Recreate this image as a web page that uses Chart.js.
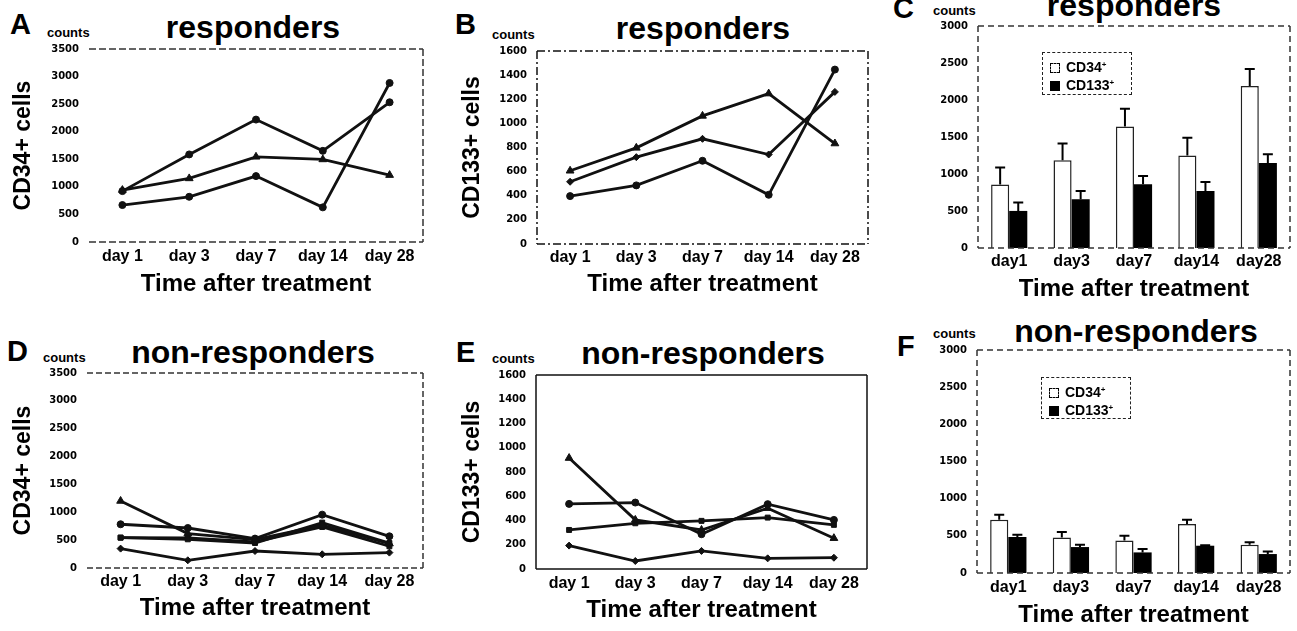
<!DOCTYPE html>
<html>
<head>
<meta charset="utf-8">
<script src="https://cdn.jsdelivr.net/npm/chart.js@4.4.1/dist/chart.umd.min.js"></script>
<style>
  html, body { margin: 0; padding: 0; background: #fff; overflow: hidden; }
  body { width: 1297px; height: 631px; position: relative; font-family: 'Liberation Sans', Arial, sans-serif; color: #000; }
  .box { position: absolute; }
  .txt { position: absolute; font-weight: bold; line-height: 1; white-space: nowrap; }
  .letter { font-size: 29px; }
  .title { font-size: 32px; transform: translateX(-50%); }
  .counts { font-size: 13px; }
  .legend { position: absolute; border: 1.5px dashed #222; box-sizing: border-box; }
  .legend .row { position: absolute; left: 7px; font-size: 14px; font-weight: bold; line-height: 14px; height: 14px; }
  .legend .sw { display: inline-block; width: 10px; height: 10px; box-sizing: border-box; margin-right: 6px; vertical-align: -1px; }
  .legend sup { font-size: 8px; vertical-align: 5px; }
</style>
</head>
<body>

<div class="txt letter" style="left:10px;top:10px">A</div>
<div class="txt counts" style="left:47px;top:26px">counts</div>
<div class="txt title" style="left:253px;top:11px">responders</div>

<div class="txt letter" style="left:455px;top:10px">B</div>
<div class="txt counts" style="left:492px;top:28px">counts</div>
<div class="txt title" style="left:703px;top:12px">responders</div>

<div class="txt letter" style="left:893px;top:-6px">C</div>
<div class="txt counts" style="left:933px;top:4px">counts</div>
<div class="txt title" style="left:1134px;top:-11px">responders</div>

<div class="txt letter" style="left:7px;top:337px">D</div>
<div class="txt counts" style="left:43px;top:351px">counts</div>
<div class="txt title" style="left:253px;top:336px">non-responders</div>

<div class="txt letter" style="left:456px;top:338px">E</div>
<div class="txt counts" style="left:492px;top:352px">counts</div>
<div class="txt title" style="left:703px;top:337px">non-responders</div>

<div class="txt letter" style="left:897px;top:332px">F</div>
<div class="txt counts" style="left:933px;top:327px">counts</div>
<div class="txt title" style="left:1136px;top:315px">non-responders</div>

<div class="box" style="left:0px;top:0px;width:440px;height:303px"><canvas id="chartA"></canvas></div>
<div class="box" style="left:449px;top:0px;width:431px;height:303px"><canvas id="chartB"></canvas></div>
<div class="box" style="left:930px;top:0px;width:367px;height:308px"><canvas id="chartC"></canvas></div>
<div class="box" style="left:0px;top:310px;width:440px;height:317px"><canvas id="chartD"></canvas></div>
<div class="box" style="left:449px;top:310px;width:431px;height:319px"><canvas id="chartE"></canvas></div>
<div class="box" style="left:930px;top:310px;width:367px;height:320px"><canvas id="chartF"></canvas></div>

<div class="legend" style="left:1042px;top:52px;width:90px;height:43px">
  <div class="row" style="top:5px"><span class="sw" style="border:1.5px dashed #000;background:#fff"></span>CD34<sup>+</sup></div>
  <div class="row" style="top:23px"><span class="sw" style="background:#000"></span>CD133<sup>+</sup></div>
</div>
<div class="legend" style="left:1041px;top:377px;width:90px;height:42px">
  <div class="row" style="top:5px"><span class="sw" style="border:1.5px dashed #000;background:#fff"></span>CD34<sup>+</sup></div>
  <div class="row" style="top:23px"><span class="sw" style="background:#000"></span>CD133<sup>+</sup></div>
</div>

<script>
// categories
const days = ['day 1', 'day 3', 'day 7', 'day 14', 'day 28'];
const barDays = ['day1', 'day3', 'day7', 'day14', 'day28'];

// A: CD34+ responders
const aPatient1 = [923, 1588, 2220, 1653, 2534];
const aPatient2 = [941, 1153, 1545, 1497, 1213];
const aPatient3 = [670, 820, 1195, 628, 2884];

// B: CD133+ responders
const bPatient1 = [607, 797, 1062, 1247, 833];
const bPatient2 = [516, 720, 872, 742, 1261];
const bPatient3 = [397, 486, 690, 408, 1446];

// C: responders means and error
const cCD34 = [858, 1187, 1643, 1250, 2188];
const cCD34Err = [230, 226, 238, 239, 230];
const cCD133 = [501, 659, 862, 771, 1150];
const cCD133Err = [113, 112, 112, 122, 117];

// D: CD34+ non-responders
const dPatient1 = [1203, 617, 510, 767, 438];
const dPatient2 = [785, 718, 528, 958, 569];
const dPatient3 = [545, 515, 449, 815, 449];
const dPatient4 = [545, 540, 470, 736, 390];
const dPatient5 = [348, 138, 305, 246, 276];

// E: CD133+ non-responders
const ePatient1 = [915, 405, 322, 502, 254];
const ePatient2 = [537, 548, 287, 535, 405];
const ePatient3 = [322, 377, 397, 424, 364];
const ePatient4 = [193, 66, 149, 88, 93];

// F: non-responders means and error
const fCD34 = [716, 479, 438, 658, 380];
const fCD34Err = [68, 72, 63, 58, 32];
const fCD133 = [484, 349, 277, 367, 255];
const fCD133Err = [31, 31, 46, 5, 35];

const FONT = "'Liberation Sans', Arial, sans-serif";

const framePlugin = {
  id: 'frame',
  afterDraw(chart, args, opts) {
    if (!opts.sides) return;
    const {left, top, right, bottom} = chart.chartArea;
    const ctx = chart.ctx;
    ctx.save();
    ctx.strokeStyle = opts.color || '#000';
    ctx.lineWidth = opts.width || 1;
    ctx.setLineDash(opts.dash || []);
    ctx.beginPath();
    if (opts.sides.includes('t')) { ctx.moveTo(left, top); ctx.lineTo(right, top); }
    if (opts.sides.includes('r')) { ctx.moveTo(right, top); ctx.lineTo(right, bottom); }
    if (opts.sides.includes('b')) { ctx.moveTo(left, bottom); ctx.lineTo(right, bottom); }
    if (opts.sides.includes('l')) { ctx.moveTo(left, top); ctx.lineTo(left, bottom); }
    ctx.stroke();
    ctx.restore();
  }
};

const errorPlugin = {
  id: 'errbars',
  afterDatasetsDraw(chart) {
    const ctx = chart.ctx;
    const yScale = chart.scales.y;
    chart.data.datasets.forEach((ds, i) => {
      if (!ds.errors) return;
      const meta = chart.getDatasetMeta(i);
      ctx.save();
      ctx.strokeStyle = '#000';
      ctx.lineWidth = 2;
      meta.data.forEach((bar, j) => {
        const yTop = yScale.getPixelForValue(ds.data[j] + ds.errors[j]);
        ctx.beginPath();
        ctx.moveTo(bar.x, bar.y);
        ctx.lineTo(bar.x, yTop);
        ctx.moveTo(bar.x - 5, yTop);
        ctx.lineTo(bar.x + 5, yTop);
        ctx.stroke();
      });
      ctx.restore();
    });
  }
};

Chart.register(framePlugin, errorPlugin);

function lineSet(data, style) {
  return {
    data: data,
    borderColor: '#111',
    backgroundColor: '#111',
    borderWidth: 2.8,
    pointStyle: style,
    pointRadius: style === 'triangle' ? 4.5 : 3.5,
    pointBorderWidth: 1,
    tension: 0
  };
}

function scales(g, yMax, yStep, yTitle) {
  const y = {
    min: 0, max: yMax,
    grid: { display: false, drawTicks: false },
    border: { display: false },
    ticks: { stepSize: yStep, padding: 10, color: '#000', format: { useGrouping: false },
      font: { family: "'DejaVu Sans', sans-serif", size: 10, weight: 'bold' } },
    afterFit: (s) => { s.width = g.yWidth; }
  };
  if (yTitle) {
    y.title = { display: true, text: yTitle, color: '#000', padding: { top: 10, bottom: 0 }, font: { family: FONT, size: 23, weight: 'bold' } };
  }
  return {
    x: {
      offset: true,
      grid: { display: false, drawTicks: false },
      border: { display: false },
      ticks: { padding: g.tickPad, autoSkip: false, maxRotation: 0, color: '#000', font: { family: FONT, size: 16, weight: 'bold' } },
      title: { display: true, text: 'Time after treatment', color: '#000', padding: { top: 0, bottom: g.titlePad }, font: { family: FONT, size: 24, weight: 'bold' } },
      afterFit: (s) => { s.height = g.xHeight; }
    },
    y: y
  };
}

function baseOptions(g, yMax, yStep, yTitle, frame) {
  return {
    responsive: true,
    maintainAspectRatio: false,
    animation: false,
    layout: { padding: { top: g.top, right: g.right, bottom: 0, left: 0 } },
    plugins: { legend: { display: false }, tooltip: { enabled: false }, frame: frame },
    scales: scales(g, yMax, yStep, yTitle)
  };
}

function lineChart(id, sets, g, yMax, yStep, yTitle, frame) {
  new Chart(document.getElementById(id), {
    type: 'line',
    data: { labels: days, datasets: sets },
    options: baseOptions(g, yMax, yStep, yTitle, frame)
  });
}

function barChart(id, cd34, cd34Err, cd133, cd133Err, g, frame) {
  const opts = baseOptions(g, 3000, 500, null, frame);
  opts.datasets = { bar: { categoryPercentage: 0.58, barPercentage: 1.0 } };
  new Chart(document.getElementById(id), {
    type: 'bar',
    data: {
      labels: barDays,
      datasets: [
        { label: 'CD34+', data: cd34, errors: cd34Err, backgroundColor: '#fff', borderColor: '#222', borderWidth: 1.5 },
        { label: 'CD133+', data: cd133, errors: cd133Err, backgroundColor: '#000', borderColor: '#000', borderWidth: 0 }
      ]
    },
    options: opts
  });
}

const dashed = { sides: 'trb', dash: [7, 3], color: '#333', width: 1.5 };

lineChart('chartA', [lineSet(aPatient1, 'circle'), lineSet(aPatient2, 'triangle'), lineSet(aPatient3, 'circle')],
  { top: 49, right: 17, yWidth: 89, xHeight: 61, tickPad: 5, titlePad: 4 }, 3500, 500, 'CD34+ cells', dashed);

lineChart('chartB', [lineSet(bPatient1, 'triangle'), lineSet(bPatient2, 'rectRot'), lineSet(bPatient3, 'circle')],
  { top: 51, right: 12, yWidth: 88, xHeight: 59, tickPad: 4, titlePad: 4 }, 1600, 200, 'CD133+ cells',
  { sides: 'trbl', dash: [8, 3, 2, 3], color: '#111', width: 1.5 });

barChart('chartC', cCD34, cCD34Err, cCD133, cCD133Err,
  { top: 26, right: 7, yWidth: 48, xHeight: 60, tickPad: 4, titlePad: 4 },
  { sides: 'trbl', dash: [6, 4], color: '#333', width: 1.5 });

lineChart('chartD', [lineSet(dPatient1, 'triangle'), lineSet(dPatient2, 'circle'), lineSet(dPatient3, 'rect'), lineSet(dPatient4, 'rect'), lineSet(dPatient5, 'rectRot')],
  { top: 63, right: 17, yWidth: 87, xHeight: 59, tickPad: 4, titlePad: 4 }, 3500, 500, 'CD34+ cells',
  { sides: 'trb', dash: [6, 3], color: '#333', width: 1.5 });

lineChart('chartE', [lineSet(ePatient1, 'triangle'), lineSet(ePatient2, 'circle'), lineSet(ePatient3, 'rect'), lineSet(ePatient4, 'rectRot')],
  { top: 65, right: 13, yWidth: 87, xHeight: 60, tickPad: 5, titlePad: 4 }, 1600, 200, 'CD133+ cells',
  { sides: 'trbl', dash: [], color: '#111', width: 1.5 });

barChart('chartF', fCD34, fCD34Err, fCD133, fCD133Err,
  { top: 40, right: 7, yWidth: 47, xHeight: 57, tickPad: 5, titlePad: 0 },
  { sides: 'trbl', dash: [6, 4], color: '#333', width: 1.5 });
</script>
</body>
</html>
